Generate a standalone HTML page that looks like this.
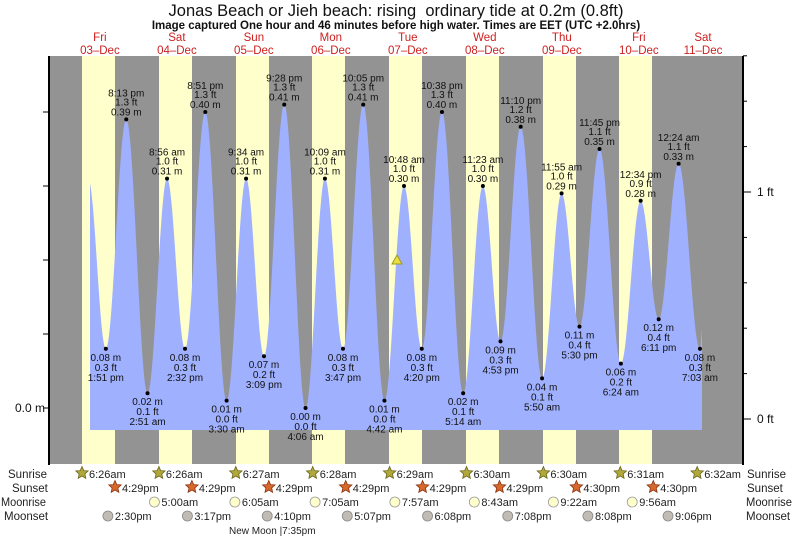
<!DOCTYPE html>
<html><head><meta charset="utf-8"><style>
body{margin:0;background:#fff}
svg{display:block;font-family:"Liberation Sans",sans-serif}
</style></head><body>
<svg id="s" width="793" height="538" xmlns="http://www.w3.org/2000/svg">
<rect x="50" y="56" width="693" height="408" fill="#939393"/>
<g id="bands"></g>
<path id="tide" fill="#9fb0ff"/>
<g id="lbl" font-size="10" fill="#111" text-anchor="middle"></g>
<polygon points="397,255 392,264 402,264" fill="#e8e040" stroke="#a09a20" stroke-width="1"/>
<line x1="49" y1="56" x2="49" y2="465" stroke="#000" stroke-width="2"/>
<line x1="743" y1="56" x2="743" y2="465" stroke="#000" stroke-width="2"/>
<g id="ticks" stroke="#000"></g>
<text x="396" y="16" font-size="16.5" text-anchor="middle" fill="#111">Jonas Beach or Jieh beach: rising&#160; ordinary tide at 0.2m (0.8ft)</text>
<text x="396" y="29" font-size="11.5" font-weight="bold" text-anchor="middle" fill="#111">Image captured One hour and 46 minutes before high water. Times are EET (UTC +2.0hrs)</text>
<g id="days" font-size="11.5" fill="#cc2020" text-anchor="middle"></g>
<text x="45" y="412" font-size="12" text-anchor="end" fill="#111">0.0 m</text>
<text x="757" y="196" font-size="12" fill="#111">1 ft</text>
<text x="757" y="423" font-size="12" fill="#111">0 ft</text>
<g font-size="11.5" fill="#222">
<text x="8" y="478">Sunrise</text><text x="12" y="492">Sunset</text><text x="1" y="506" textLength="45" lengthAdjust="spacingAndGlyphs">Moonrise</text><text x="4" y="520">Moonset</text></g>
<g font-size="11.5" fill="#222">
<text x="747" y="478">Sunrise</text><text x="747" y="492">Sunset</text><text x="746" y="506" textLength="46" lengthAdjust="spacingAndGlyphs">Moonrise</text><text x="746" y="520">Moonset</text></g>
<g id="astro" font-size="11" fill="#222"></g>
<text x="229" y="534" font-size="10" fill="#222">New Moon |7:35pm</text>
</svg>
<script>
var NS="http://www.w3.org/2000/svg";
function el(p,t,a,txt){var e=document.createElementNS(NS,t);for(var k in a)e.setAttribute(k,a[k]);if(txt!==undefined)e.textContent=txt;document.getElementById(p).appendChild(e);return e;}
var X0=61.4,PH=3.208,Y0=408,PM=740;
function xh(h){return X0+h*PH;}
var ys=[82,159,236,312,389,466,543,619];
ys.forEach(function(x){el("bands","rect",{x:x,y:56,width:33,height:408,fill:"#ffffcc"});});
var dn=["Fri","Sat","Sun","Mon","Tue","Wed","Thu","Fri","Sat"];
for(var d=0;d<9;d++){var cx=xh(d*24+12);if(d==8)cx=xh(8*24+8);el("days","text",{x:cx,y:41},dn[d]);el("days","text",{x:cx,y:54},("0"+(3+d)).slice(-2)+"\u2013Dec");}
[408,334,260,186,112].forEach(function(y){el("ticks","line",{x1:43,y1:y,x2:49,y2:y});});
for(var i=0;i<9;i++){var y=419-i*45.4;var big=(i==0||i==5);el("ticks","line",{x1:743,y1:y,x2:big?751:747,y2:y});}
function t(d,h,m,ap){var hh=h%12+(ap=="pm"?12:0);return d*24+hh+m/60;}
var E=[
[t(0,8,20,"am"),0.31,null],
[t(0,1,51,"pm"),0.08,"1:51 pm","0.3"],[t(0,8,13,"pm"),0.39,"8:13 pm","1.3"],
[t(1,2,51,"am"),0.02,"2:51 am","0.1"],[t(1,8,56,"am"),0.31,"8:56 am","1.0"],[t(1,2,32,"pm"),0.08,"2:32 pm","0.3"],[t(1,8,51,"pm"),0.40,"8:51 pm","1.3"],
[t(2,3,30,"am"),0.01,"3:30 am","0.0"],[t(2,9,34,"am"),0.31,"9:34 am","1.0"],[t(2,3,9,"pm"),0.07,"3:09 pm","0.2"],[t(2,9,28,"pm"),0.41,"9:28 pm","1.3"],
[t(3,4,6,"am"),0.00,"4:06 am","0.0"],[t(3,10,9,"am"),0.31,"10:09 am","1.0"],[t(3,3,47,"pm"),0.08,"3:47 pm","0.3"],[t(3,10,5,"pm"),0.41,"10:05 pm","1.3"],
[t(4,4,42,"am"),0.01,"4:42 am","0.0"],[t(4,10,48,"am"),0.30,"10:48 am","1.0"],[t(4,4,20,"pm"),0.08,"4:20 pm","0.3"],[t(4,10,38,"pm"),0.40,"10:38 pm","1.3"],
[t(5,5,14,"am"),0.02,"5:14 am","0.1"],[t(5,11,23,"am"),0.30,"11:23 am","1.0"],[t(5,4,53,"pm"),0.09,"4:53 pm","0.3"],[t(5,11,10,"pm"),0.38,"11:10 pm","1.2"],
[t(6,5,50,"am"),0.04,"5:50 am","0.1"],[t(6,11,55,"am"),0.29,"11:55 am","1.0"],[t(6,5,30,"pm"),0.11,"5:30 pm","0.4"],[t(6,11,45,"pm"),0.35,"11:45 pm","1.1"],
[t(7,6,24,"am"),0.06,"6:24 am","0.2"],[t(7,12,34,"pm"),0.28,"12:34 pm","0.9"],[t(7,6,11,"pm"),0.12,"6:11 pm","0.4"],
[t(8,12,24,"am"),0.33,"12:24 am","1.1"],[t(8,7,3,"am"),0.08,"7:03 am","0.3"],[(702-X0)/PH+0.3,0.115,null]];
function hAt(h){for(var i=0;i<E.length-1;i++){if(h>=E[i][0]&&h<=E[i+1][0]){var f=(h-E[i][0])/(E[i+1][0]-E[i][0]);return E[i][1]+(E[i+1][1]-E[i][1])*(1-Math.cos(Math.PI*f))/2;}}return E[E.length-1][1];}
var d="M90,430";for(var x=90;x<=702;x+=0.5){var h=(x-X0)/PH;d+=" L"+x+","+(Y0-hAt(h)*PM).toFixed(1);}d+=" L702,430 Z";
document.getElementById("tide").setAttribute("d",d);
E.forEach(function(e,i){if(!e[2])return;var x=xh(e[0]),y=Y0-e[1]*PM;
el("lbl","circle",{cx:x,cy:y,r:2,fill:"#000"});
var high=e[1]>0.2;
if(high){el("lbl","text",{x:x,y:y-4},e[1].toFixed(2)+" m");el("lbl","text",{x:x,y:y-14},e[3]+" ft");el("lbl","text",{x:x,y:y-23},e[2]);}
else{el("lbl","text",{x:x,y:y+12},e[1].toFixed(2)+" m");el("lbl","text",{x:x,y:y+22},e[3]+" ft");el("lbl","text",{x:x,y:y+32},e[2]);}
});
function star(x,y,fill,stroke){var p=[];for(var k=0;k<10;k++){var r=k%2?3:6.5,a=-Math.PI/2+k*Math.PI/5;p.push((x+r*Math.cos(a)).toFixed(1)+","+(y+r*Math.sin(a)).toFixed(1));}el("astro","polygon",{points:p.join(" "),fill:fill,stroke:stroke,"stroke-width":0.8});}
var sr=["6:26am","6:26am","6:27am","6:28am","6:29am","6:30am","6:30am","6:31am","6:32am"];
var ss=["4:29pm","4:29pm","4:29pm","4:29pm","4:29pm","4:29pm","4:30pm","4:30pm"];
for(var i=0;i<9;i++){var x=82+i*76.9;star(x,473,"#b0a838","#6a6420");el("astro","text",{x:x+7,y:478},sr[i]);}
for(var i=0;i<8;i++){var x=115+i*76.9;star(x,487,"#d8692c","#8a3010");el("astro","text",{x:x+7,y:492},ss[i]);}
var mr=[[1,5,0,"5:00am"],[2,6,5,"6:05am"],[3,7,5,"7:05am"],[4,7,57,"7:57am"],[5,8,43,"8:43am"],[6,9,22,"9:22am"],[7,9,56,"9:56am"]];
mr.forEach(function(m){var x=xh(m[0]*24+m[1]+m[2]/60);el("astro","circle",{cx:x,cy:502,r:5,fill:"#ffffcc",stroke:"#999","stroke-width":0.8});el("astro","text",{x:x+7,y:506},m[3]);});
var ms=[[0,14,30,"2:30pm"],[1,15,17,"3:17pm"],[2,16,10,"4:10pm"],[3,17,7,"5:07pm"],[4,18,8,"6:08pm"],[5,19,8,"7:08pm"],[6,20,8,"8:08pm"],[7,21,6,"9:06pm"]];
ms.forEach(function(m){var x=xh(m[0]*24+m[1]+m[2]/60);el("astro","circle",{cx:x,cy:516,r:5,fill:"#c0bcb4",stroke:"#888","stroke-width":0.8});el("astro","text",{x:x+7,y:520},m[3]);});
</script>
</body></html>
